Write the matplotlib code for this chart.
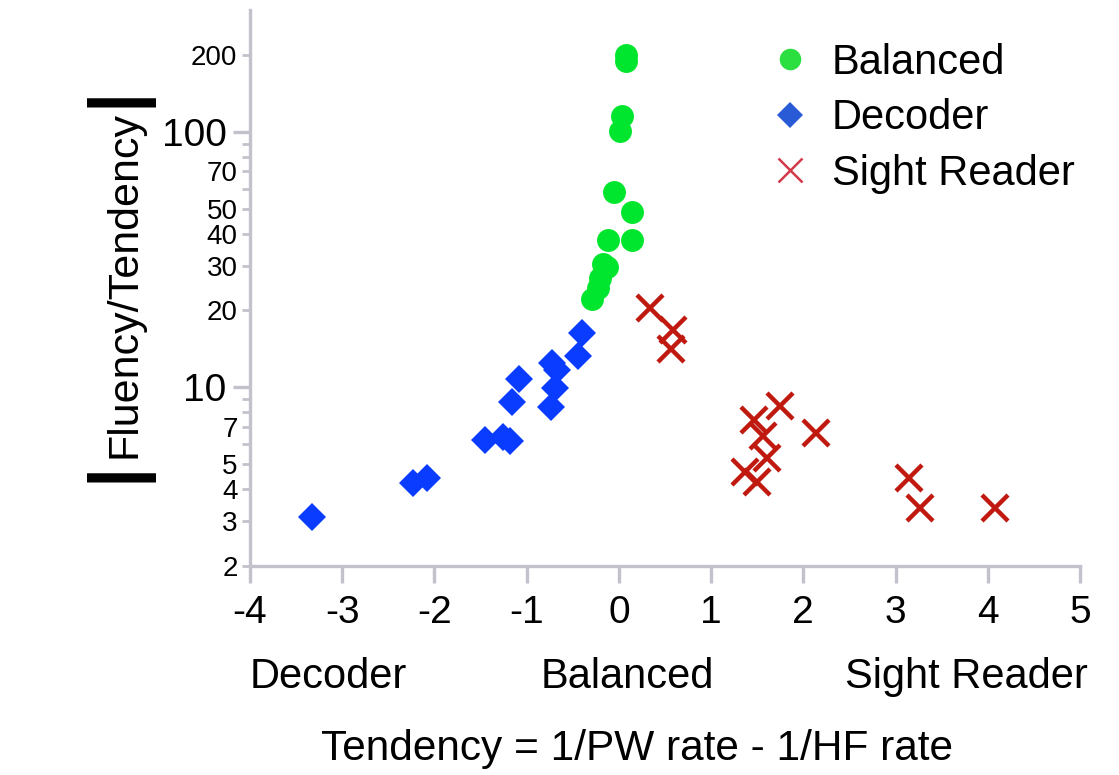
#Scatter of |Fluency/Tendency| against reading tendency, three reader groups
#%%
import matplotlib
matplotlib.use('Agg')
import matplotlib.pyplot as plt
from matplotlib.lines import Line2D
from matplotlib.ticker import FixedLocator, FuncFormatter

plt.rcParams['font.family'] = ['Liberation Sans', 'DejaVu Sans']
plt.rcParams['axes.unicode_minus'] = False

#%%
#Values (tendency, |fluency/tendency|)
balanced_x = [0.08, 0.08, 0.03, 0.01, -0.05, 0.14, -0.12, 0.14,
              -0.17, -0.13, -0.21, -0.23, -0.29]
balanced_y = [200, 189, 115, 101, 58, 48.5, 37.6, 37.6,
              30.3, 29.5, 26.7, 24.4, 22.1]

decoder_x = [-3.33, -2.23, -2.08, -1.45, -1.26, -1.18, -1.16, -1.08,
             -0.74, -0.69, -0.73, -0.67, -0.44, -0.40]
decoder_y = [3.11, 4.23, 4.43, 6.24, 6.41, 6.18, 8.79, 10.8,
             8.41, 9.98, 12.5, 11.7, 13.3, 16.4]

sight_x = [0.34, 0.59, 0.56, 1.75, 1.46, 1.56, 1.61, 1.37, 1.50,
           2.14, 3.15, 3.27, 4.08]
sight_y = [20.5, 16.8, 14.1, 8.48, 7.47, 6.47, 5.30, 4.67, 4.27,
           6.65, 4.43, 3.38, 3.38]

group_names = ['Balanced', 'Decoder', 'Sight Reader']
x_ticks = [-4, -3, -2, -1, 0, 1, 2, 3, 4, 5]
y_major = [10, 100]
y_minor = [2, 3, 4, 5, 6, 7, 8, 9, 20, 30, 40, 50, 60, 70, 80, 90, 200]
y_minor_labelled = [2, 3, 4, 5, 7, 20, 30, 40, 50, 70, 200]

#%%
axis_grey = '#c3c1cc'

fig = plt.figure(figsize=(11.19, 7.75), dpi=100)
ax = fig.add_axes([250/1119, 1 - 566/775, 830/1119, 556/775])

ax.plot(balanced_x, balanced_y, 'o', color='#00e62e', markersize=16.5,
        markeredgewidth=0, linestyle='none')
ax.plot(decoder_x, decoder_y, 'D', color='#0a3cff', markersize=14,
        markeredgewidth=0, linestyle='none')
ax.plot(sight_x, sight_y, 'x', color='#c01a10', markersize=19,
        markeredgewidth=3.2, linestyle='none')

ax.set_yscale('log')
ax.set_xlim(-4, 5)
ax.set_ylim(2, 300)

for side in ['top', 'right']:
    ax.spines[side].set_visible(False)
for side in ['left', 'bottom']:
    ax.spines[side].set_color(axis_grey)
    ax.spines[side].set_linewidth(2.4)

ax.set_xticks(x_ticks)
ax.tick_params(axis='x', which='major', length=12, width=2.4,
               color=axis_grey, labelsize=28, pad=9)

ax.yaxis.set_major_locator(FixedLocator(y_major))
ax.yaxis.set_major_formatter(FuncFormatter(lambda v, p: '%d' % v))
ax.yaxis.set_minor_locator(FixedLocator(y_minor))
ax.yaxis.set_minor_formatter(FuncFormatter(
    lambda v, p: '%d' % v if round(v) in y_minor_labelled else ''))
ax.tick_params(axis='y', which='major', length=12, width=2.4,
               color=axis_grey, labelsize=28, pad=5)
ax.tick_params(axis='y', which='minor', length=6, width=2.0,
               color=axis_grey, labelsize=20, pad=3)

#Group names under the axis
xt = ax.get_xaxis_transform()
ax.text(-4, -0.219, 'Decoder', transform=xt, ha='left', va='baseline', fontsize=30)
ax.text(0.087, -0.219, 'Balanced', transform=xt, ha='center', va='baseline', fontsize=30)
ax.text(5.09, -0.219, 'Sight Reader', transform=xt, ha='right', va='baseline', fontsize=30)
ax.text(0.466, -0.349, 'Tendency = 1/PW rate - 1/HF rate', transform=ax.transAxes,
        ha='center', va='baseline', fontsize=30.5)

#Y label with absolute value bars
fig.text(124/1119, 1 - 284/775, 'Fluency/Tendency', rotation=90,
         ha='center', va='center', fontsize=31)
fig.text(117/1119, 1 - 97/775, '|', rotation=90, ha='center', va='center',
         fontsize=52, fontweight='bold')
fig.text(117/1119, 1 - 472/775, '|', rotation=90, ha='center', va='center',
         fontsize=52, fontweight='bold')

#Legend
handles = [
    Line2D([], [], marker='o', color='#2adf3f', markersize=15.5,
           markeredgewidth=0, linestyle='none'),
    Line2D([], [], marker='D', color='#2a5bd6', markersize=13.5,
           markeredgewidth=0, linestyle='none'),
    Line2D([], [], marker='x', color='#d23a4a', markersize=17,
           markeredgewidth=1.8, linestyle='none'),
]
fig.legend(handles, group_names, loc='upper left',
           bbox_to_anchor=(769/1119, 1 - 43/775), frameon=False, fontsize=30,
           handlelength=1.0, handletextpad=0.5, labelspacing=0.37,
           borderpad=0, borderaxespad=0)

fig.savefig('out.png', dpi=100)
